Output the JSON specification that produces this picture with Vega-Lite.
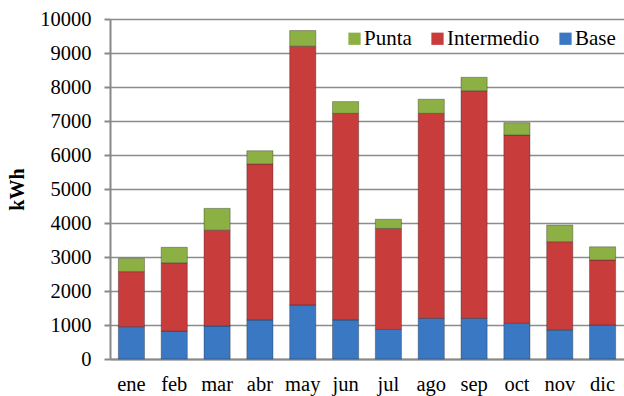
{
  "$schema": "https://vega.github.io/schema/vega-lite/v6.json",
  "autosize": "none",
  "width": 514,
  "height": 340,
  "padding": {"left": 110, "top": 19, "right": 0, "bottom": 37},
  "background": "white",
  "config": {
    "font": "Liberation Serif",
    "view": {"stroke": null}
  },
  "data": {
    "values": [
      {"mes": "ene", "serie": "Base", "kwh": 950},
      {"mes": "ene", "serie": "Intermedio", "kwh": 1620},
      {"mes": "ene", "serie": "Punta", "kwh": 390},
      {"mes": "feb", "serie": "Base", "kwh": 820},
      {"mes": "feb", "serie": "Intermedio", "kwh": 2010},
      {"mes": "feb", "serie": "Punta", "kwh": 455},
      {"mes": "mar", "serie": "Base", "kwh": 970},
      {"mes": "mar", "serie": "Intermedio", "kwh": 2820},
      {"mes": "mar", "serie": "Punta", "kwh": 640},
      {"mes": "abr", "serie": "Base", "kwh": 1150},
      {"mes": "abr", "serie": "Intermedio", "kwh": 4585},
      {"mes": "abr", "serie": "Punta", "kwh": 390},
      {"mes": "may", "serie": "Base", "kwh": 1590},
      {"mes": "may", "serie": "Intermedio", "kwh": 7610},
      {"mes": "may", "serie": "Punta", "kwh": 460},
      {"mes": "jun", "serie": "Base", "kwh": 1150},
      {"mes": "jun", "serie": "Intermedio", "kwh": 6075},
      {"mes": "jun", "serie": "Punta", "kwh": 345},
      {"mes": "jul", "serie": "Base", "kwh": 870},
      {"mes": "jul", "serie": "Intermedio", "kwh": 2970},
      {"mes": "jul", "serie": "Punta", "kwh": 270},
      {"mes": "ago", "serie": "Base", "kwh": 1195},
      {"mes": "ago", "serie": "Intermedio", "kwh": 6030},
      {"mes": "ago", "serie": "Punta", "kwh": 415},
      {"mes": "sep", "serie": "Base", "kwh": 1195},
      {"mes": "sep", "serie": "Intermedio", "kwh": 6695},
      {"mes": "sep", "serie": "Punta", "kwh": 395},
      {"mes": "oct", "serie": "Base", "kwh": 1050},
      {"mes": "oct", "serie": "Intermedio", "kwh": 5540},
      {"mes": "oct", "serie": "Punta", "kwh": 360},
      {"mes": "nov", "serie": "Base", "kwh": 850},
      {"mes": "nov", "serie": "Intermedio", "kwh": 2600},
      {"mes": "nov", "serie": "Punta", "kwh": 490},
      {"mes": "dic", "serie": "Base", "kwh": 1000},
      {"mes": "dic", "serie": "Intermedio", "kwh": 1910},
      {"mes": "dic", "serie": "Punta", "kwh": 390}
    ]
  },
  "mark": {"type": "bar", "stroke": "#222", "strokeOpacity": 0.35, "strokeWidth": 1},
  "encoding": {
    "x": {
      "field": "mes",
      "type": "nominal",
      "sort": ["ene", "feb", "mar", "abr", "may", "jun", "jul", "ago", "sep", "oct", "nov", "dic"],
      "scale": {"paddingInner": 0.39, "paddingOuter": 0.195},
      "axis": {
        "title": null,
        "labelAngle": 0,
        "labelFont": "Liberation Serif",
        "labelColor": "#000",
        "labelFontSize": 20.5,
        "labelPadding": 15,
        "ticks": false,
        "domainColor": "#888",
        "domainWidth": 2
      }
    },
    "y": {
      "field": "kwh",
      "type": "quantitative",
      "aggregate": "sum",
      "stack": "zero",
      "scale": {"domain": [0, 10000], "nice": false},
      "axis": {
        "title": "kWh",
        "titleFont": "Liberation Serif",
        "titleColor": "#000",
        "titleFontSize": 20,
        "titleFontWeight": "bold",
        "titlePadding": 12,
        "values": [0, 1000, 2000, 3000, 4000, 5000, 6000, 7000, 8000, 9000, 10000],
        "format": "d",
        "labelFont": "Liberation Serif",
        "labelColor": "#000",
        "labelFontSize": 20.5,
        "labelPadding": 13,
        "tickSize": 6,
        "tickColor": "#888",
        "tickWidth": 2,
        "domainColor": "#888",
        "domainWidth": 2,
        "grid": true,
        "gridColor": "#8c8c8c",
        "gridWidth": 1.5
      }
    },
    "color": {
      "field": "serie",
      "type": "nominal",
      "scale": {
        "domain": ["Punta", "Intermedio", "Base"],
        "range": ["#8cb043", "#c83c3c", "#3a78c4"]
      },
      "legend": {
        "title": null,
        "orient": "none",
        "direction": "horizontal",
        "legendX": 234,
        "legendY": 9,
        "padding": 0,
        "symbolType": "square",
        "symbolSize": 150,
        "symbolStrokeWidth": 0,
        "labelFont": "Liberation Serif",
        "labelColor": "#000",
        "labelFontSize": 21,
        "labelOffset": -1,
        "columnPadding": 15
      }
    },
    "order": {"field": "serie", "sort": "ascending"}
  }
}
